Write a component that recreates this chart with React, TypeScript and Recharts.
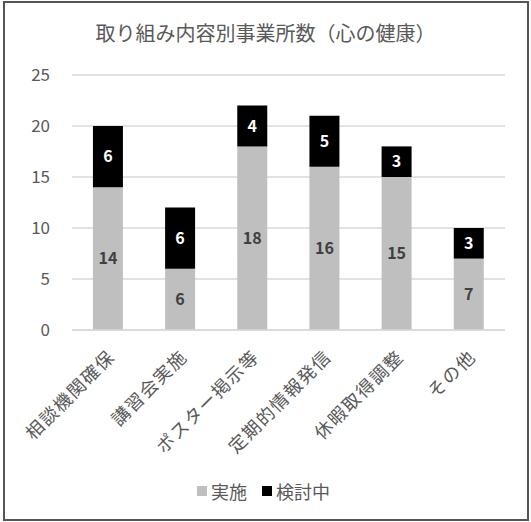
import { Bar, BarChart, CartesianGrid, LabelList, Legend, XAxis, YAxis } from "recharts";

const categories = ["相談機関確保", "講習会実施", "ポスター掲示等", "定期的情報発信", "休暇取得調整", "その他"];
const implemented = [14, 6, 18, 16, 15, 7];
const considering = [6, 6, 4, 5, 3, 3];
const yTicks = [0, 5, 10, 15, 20, 25];

const data = categories.map((name, i) => ({
  name,
  実施: implemented[i],
  検討中: considering[i],
}));

const FONT = '"Noto Sans CJK JP", "Noto Sans", sans-serif';
const GRAY = "#bfbfbf";
const TEXT = "#595959";

function CategoryTick(props: any) {
  const { x, y, payload } = props;
  return (
    <g transform={`translate(${x + 8},${y + 20})`}>
      <text
        transform="rotate(-45)"
        textAnchor="end"
        fill={TEXT}
        fontSize={18}
        letterSpacing={1.5}
        fontFamily={FONT}
      >
        {payload.value}
      </text>
    </g>
  );
}

function LegendBox() {
  const items = [
    { label: "実施", color: GRAY },
    { label: "検討中", color: "#000" },
  ];
  return (
    <div style={{ display: "flex", justifyContent: "center", gap: 15, fontFamily: FONT, fontSize: 18, color: TEXT }}>
      {items.map((it) => (
        <div key={it.label} style={{ display: "flex", alignItems: "center", gap: 4 }}>
          <span style={{ width: 10, height: 10, background: it.color, display: "inline-block" }} />
          <span>{it.label}</span>
        </div>
      ))}
    </div>
  );
}

export default function App() {
  return (
    <div style={{ position: "absolute", left: 0, top: 0, width: 531, height: 522, background: "#fff" }}>
      <div
        style={{
          position: "absolute",
          left: 0,
          right: 0,
          top: 20,
          textAlign: "center",
          fontFamily: FONT,
          fontSize: 20,
          color: TEXT,
          lineHeight: "26px",
        }}
      >
        取り組み内容別事業所数（心の健康）
      </div>
      <BarChart
        width={531}
        height={522}
        data={data}
        margin={{ top: 75, right: 26, left: 22, bottom: 4 }}
        barCategoryGap="29%"
      >
        <CartesianGrid vertical={false} stroke="#d9d9d9" strokeWidth={1.5} />
        <XAxis
          dataKey="name"
          interval={0}
          height={148}
          tickLine={false}
          axisLine={{ stroke: "#d9d9d9", strokeWidth: 1.5 }}
          tick={<CategoryTick />}
        />
        <YAxis
          domain={[0, 25]}
          ticks={yTicks}
          width={50}
          axisLine={false}
          tickLine={false}
          tick={{ fill: TEXT, fontSize: 17, fontFamily: FONT }}
          tickMargin={16}
        />
        <Legend verticalAlign="bottom" height={40} content={<LegendBox />} />
        <Bar dataKey="実施" stackId="a" fill={GRAY} isAnimationActive={false}>
          <LabelList
            dataKey="実施"
            position="center"
            fill="#404040"
            fontSize={16}
            fontWeight="bold"
            fontFamily={FONT}
          />
        </Bar>
        <Bar dataKey="検討中" stackId="a" fill="#000" isAnimationActive={false}>
          <LabelList
            dataKey="検討中"
            position="center"
            fill="#fff"
            fontSize={16}
            fontWeight="bold"
            fontFamily={FONT}
          />
        </Bar>
      </BarChart>
      <div
        style={{
          position: "absolute",
          left: 3,
          top: 1,
          width: 522,
          height: 516,
          border: "2px solid #555",
          pointerEvents: "none",
        }}
      />
    </div>
  );
}
